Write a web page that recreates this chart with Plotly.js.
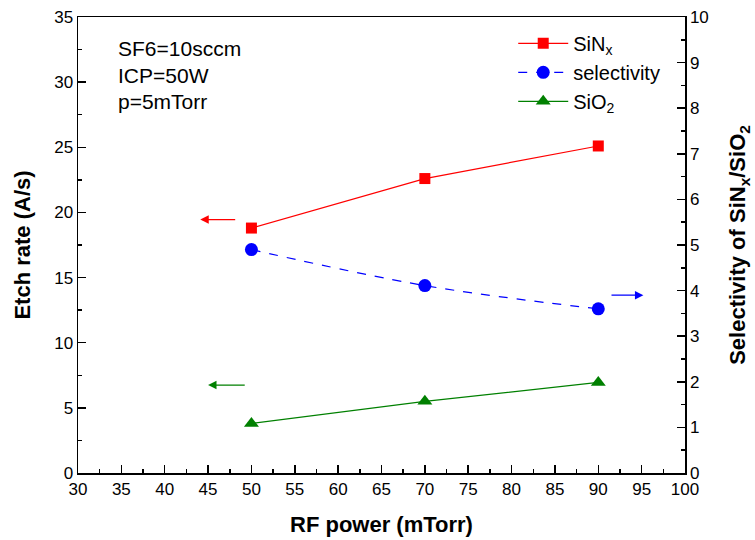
<!DOCTYPE html>
<html>
<head>
<meta charset="utf-8">
<script src="https://cdn.plot.ly/plotly-3.0.1.min.js"></script>
<style>html,body{margin:0;padding:0;background:#fff;}#chart{width:755px;height:540px;}</style>
</head>
<body>
<div id="chart"></div>
<script>
const rfPower = [50, 70, 90];
const sinxRate = [18.8, 22.6, 25.1];
const sio2Rate = [3.8, 5.5, 6.95];
const selectivity = [4.9, 4.11, 3.6];
const conditions = ["SF6=10sccm", "ICP=50W", "p=5mTorr"];

const fam = "Liberation Sans, Arial, sans-serif";
const font = {family: fam, size: 17, color: "#000"};
const titleFont = {family: fam, size: 22, color: "#000"};

const traces = [
  {x: rfPower, y: sinxRate, name: "SiN<sub>x</sub>", type: "scatter", mode: "lines+markers",
   line: {color: "#ff0000", width: 1.2}, marker: {symbol: "square", size: 11, color: "#ff0000"}},
  {x: rfPower, y: selectivity, name: "selectivity", type: "scatter", mode: "lines+markers", yaxis: "y2",
   line: {color: "#0000ff", width: 1.2, dash: "dash", shape: "spline"}, marker: {symbol: "circle", size: 13, color: "#0000ff"}},
  {x: rfPower, y: sio2Rate, name: "SiO<sub>2</sub>", type: "scatter", mode: "lines+markers",
   line: {color: "#008000", width: 1.2}, marker: {symbol: "triangle-up", size: 13, color: "#008000"}}
];

const minorTicks = {ticks: "inside", ticklen: 4, tickwidth: 1.5, tickcolor: "#000"};
const axisCommon = {
  showgrid: false, zeroline: false, showline: true, linecolor: "#000", linewidth: 1.5,
  ticks: "inside", ticklen: 8, tickwidth: 1.5, tickcolor: "#000",
  tickfont: font
};

const condY = [0.930, 0.871, 0.814];
const condAnnotations = conditions.map((t, i) => ({
  xref: "paper", yref: "paper", x: 0.062, y: condY[i], xanchor: "left", yanchor: "middle",
  showarrow: false, align: "left", text: t, font: {family: fam, size: 21, color: "#000"}
}));

const layout = {
  width: 755, height: 540,
  margin: {l: 78, r: 70, t: 17, b: 67},
  paper_bgcolor: "#fff", plot_bgcolor: "#fff",
  font: font,
  showlegend: true,
  legend: {x: 0.717, y: 0.985, xanchor: "left", yanchor: "top", bgcolor: "rgba(0,0,0,0)",
           font: {family: fam, size: 20, color: "#000"}, tracegroupgap: 0, itemwidth: 50},
  xaxis: Object.assign({}, axisCommon, {
    range: [30, 100], dtick: 5, mirror: true,
    minor: Object.assign({dtick: 2.5}, minorTicks),
    title: {text: "<b>RF power (mTorr)</b>", font: titleFont, standoff: 18}
  }),
  yaxis: Object.assign({}, axisCommon, {
    range: [0, 35], dtick: 5,
    minor: Object.assign({dtick: 2.5}, minorTicks),
    title: {text: "<b>Etch rate (A/s)</b>", font: titleFont, standoff: 17}
  }),
  yaxis2: Object.assign({}, axisCommon, {
    range: [0, 10], dtick: 1, overlaying: "y", side: "right",
    minor: Object.assign({dtick: 0.5}, minorTicks),
    title: {text: "<b>Selectivity of SiN<sub>x</sub>/SiO<sub>2</sub></b>", font: titleFont, standoff: 22}
  }),
  annotations: [
    {xref: "x", yref: "y", x: 44.1, y: 19.45, ax: 48.3, ay: 19.45, axref: "x", ayref: "y",
     showarrow: true, arrowhead: 2, arrowsize: 1.3, arrowwidth: 1.3, arrowcolor: "#ff0000", text: ""},
    {xref: "x", yref: "y", x: 45.0, y: 6.75, ax: 49.4, ay: 6.75, axref: "x", ayref: "y",
     showarrow: true, arrowhead: 2, arrowsize: 1.3, arrowwidth: 1.3, arrowcolor: "#008000", text: ""},
    {xref: "x", yref: "y2", x: 95.2, y: 3.9, ax: 91.35, ay: 3.9, axref: "x", ayref: "y2",
     showarrow: true, arrowhead: 2, arrowsize: 1.3, arrowwidth: 1.3, arrowcolor: "#0000ff", text: ""}
  ].concat(condAnnotations)
};

Plotly.newPlot("chart", traces, layout, {displayModeBar: false, staticPlot: true});
</script>
</body>
</html>
